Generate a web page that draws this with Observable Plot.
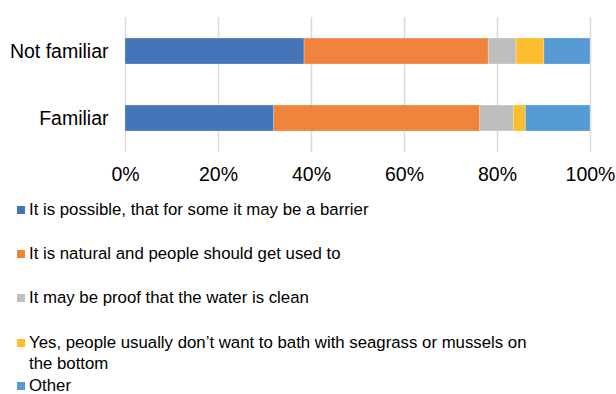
<!DOCTYPE html>
<html>
<head>
<meta charset="utf-8">
<script src="https://cdn.jsdelivr.net/npm/d3@7"></script>
<script src="https://cdn.jsdelivr.net/npm/@observablehq/plot@0.6"></script>
<style>
  body { margin: 0; background: #fff; font-family: "Liberation Sans", Arial, sans-serif; }
  #chart svg { display: block; }
  #leg { width: 616px; padding-top: 9px; }
  .item { position: relative; margin-left: 29px; width: 505px; font-size: 16.8px; line-height: 21.5px; color: #000; }
  .sw { position: absolute; left: -12px; top: 7px; width: 8px; height: 8px; }
</style>
</head>
<body>
<div id="chart"></div>
<div id="leg"></div>
<script>
const categories = ["Not familiar", "Familiar"];
const series = [
  "It is possible, that for some it may be a barrier",
  "It is natural and people should get used to",
  "It may be proof that the water is clean",
  "Yes, people usually don\u2019t want to bath with seagrass or mussels on the bottom",
  "Other"
];
const colors = ["#4674B9", "#F0843C", "#BEBEBE", "#FCBE2C", "#559AD3"];
// values per series, in order of categories
const possible = [38.5, 32.0];
const natural = [39.6, 44.3];
const proof = [6.0, 7.2];
const yesBath = [6.0, 2.6];
const other = [9.9, 13.9];
const xTicks = [0, 20, 40, 60, 80, 100];

const seriesValues = [possible, natural, proof, yesBath, other];
const data = [];
series.forEach((s, i) => categories.forEach((c, j) => data.push({series: s, category: c, value: seriesValues[i][j]})));

const plot = Plot.plot({
  width: 616,
  height: 190,
  marginLeft: 125,
  marginRight: 26,
  marginTop: 17,
  marginBottom: 38,
  style: {fontFamily: "'Liberation Sans', Arial, sans-serif", fontSize: "19.5px", color: "#000", background: "#fff"},
  x: {domain: [0, 100], label: null},
  y: {domain: categories, paddingInner: 0.605, paddingOuter: 0.3, label: null},
  color: {domain: series, range: colors},
  marks: [
    Plot.ruleX(xTicks, {stroke: "#d9d9d9", strokeWidth: 1.5}),
    Plot.barX(data, Plot.stackX({x: "value", y: "category", fill: "series", stroke: "#ffffff", strokeWidth: 0.5, strokeOpacity: 0.5})),
    Plot.axisX({ticks: xTicks, tickFormat: d => d + "%", tickSize: 0, tickPadding: 15, fontSize: 19.5, fill: "#000", label: null}),
    Plot.axisY({tickSize: 0, tickPadding: 17, fontSize: 19.5, fill: "#000", label: null})
  ]
});
document.getElementById("chart").appendChild(plot);

const legEl = document.getElementById("leg");
const gaps = [0, 22.5, 22.5, 23, 0];
series.forEach((s, i) => {
  const d = document.createElement("div");
  d.className = "item";
  d.style.marginTop = gaps[i] + "px";
  const sw = document.createElement("span");
  sw.className = "sw";
  sw.style.background = colors[i];
  d.appendChild(sw);
  const t = document.createElement("span");
  t.textContent = s;
  d.appendChild(t);
  legEl.appendChild(d);
});
</script>
</body>
</html>
